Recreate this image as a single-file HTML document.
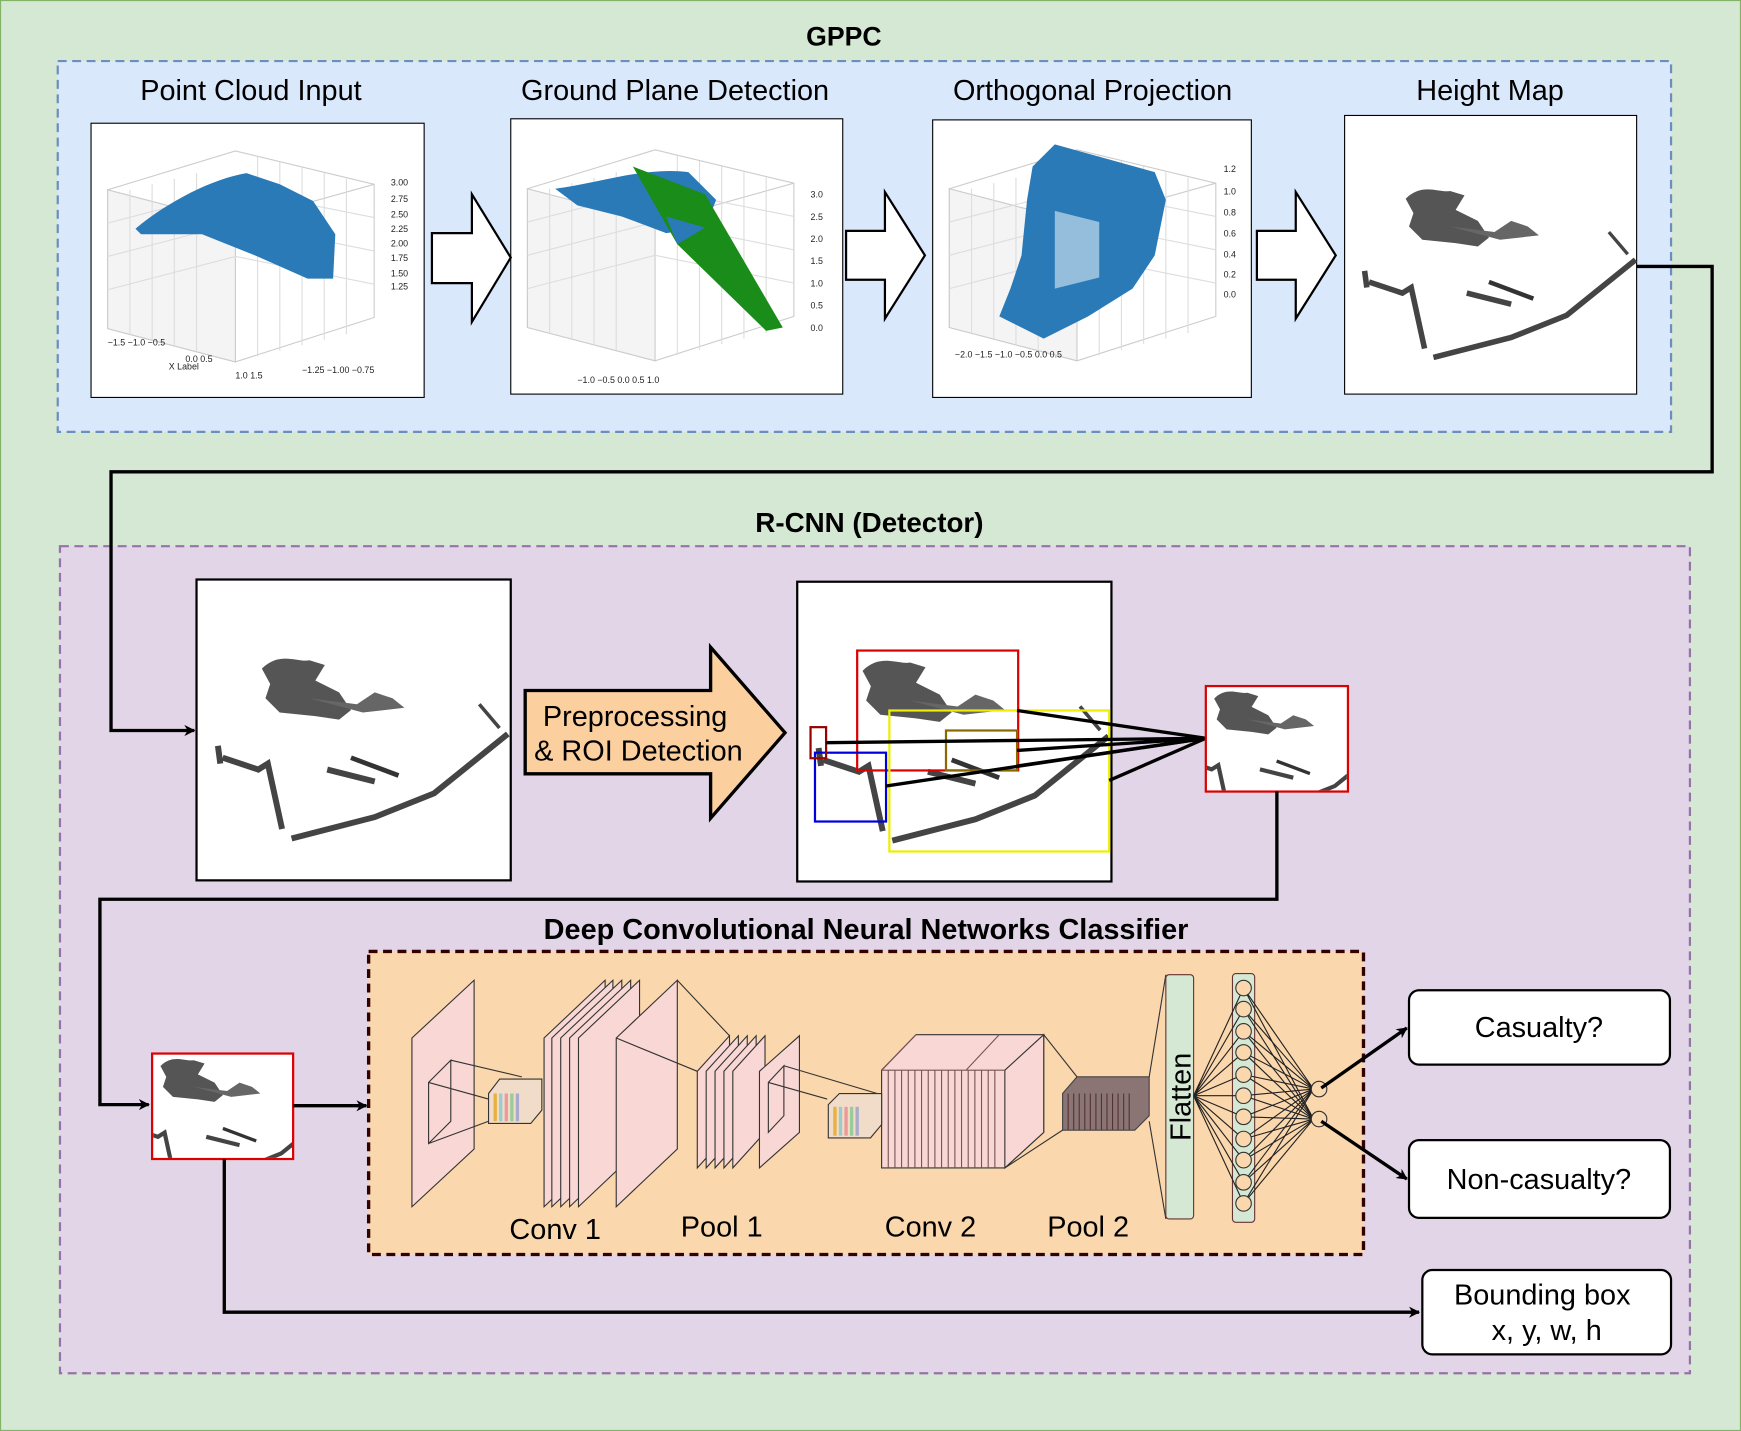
<!DOCTYPE html>
<html><head><meta charset="utf-8"><style>
html,body{margin:0;padding:0;background:#d5e8d4}
svg{display:block}
text{font-family:"Liberation Sans",sans-serif}
</style></head><body>
<svg width="1741" height="1431" viewBox="0 0 1568 1289" preserveAspectRatio="none" xmlns="http://www.w3.org/2000/svg">
<defs>
<marker id="ar" markerWidth="10" markerHeight="10" refX="9" refY="5" orient="auto" markerUnits="userSpaceOnUse"><path d="M0,0 L10,5 L0,10 L3,5 z" fill="#000"/></marker>
<clipPath id="c1"><rect x="1087" y="619" width="126" height="93"/></clipPath>
<clipPath id="c2"><rect x="138" y="950" width="125" height="93"/></clipPath>
<g id="hm">
 <path d="M55,75 C70,60 85,70 95,68 L108,72 L100,85 L120,95 L130,110 L120,118 L100,115 L70,112 L58,100 L62,88 Z" fill="#555"/>
 <path d="M95,100 L135,105 L150,95 L165,100 L175,108 L140,112 Z" fill="#666"/>
 <path d="M18,140 L20,155 M22,150 L52,160 L60,155 L72,210 M80,218 L150,200 L200,180 L262,130 M110,160 L150,170" stroke="#444" stroke-width="5" fill="none"/>
 <path d="M130,150 L170,165" stroke="#333" stroke-width="4"/>
 <path d="M238,105 L255,125" stroke="#444" stroke-width="3"/>
</g>
<g id="cube">
 <path d="M15,60 L130,25 L255,55 L255,175 L130,215 L15,185 Z" fill="#fff" stroke="#ccc"/>
 <path d="M15,60 L15,185 L130,215 L130,90 Z M130,90 L255,55" fill="#f4f4f4" stroke="#ccc"/>
 <path d="M35,60 L35,190 M55,55 L55,195 M75,50 L75,200 M95,45 L95,205 M150,30 L150,210 M170,35 L170,205 M190,40 L190,200 M210,45 L210,195 M230,50 L230,190 M15,90 L130,60 L255,85 M15,120 L130,90 L255,115 M15,150 L130,120 L255,145" stroke="#ddd" fill="none"/>
</g>
</defs>
<rect x="0.5" y="0.5" width="1567" height="1288" fill="#d5e8d4" stroke="#82b366"/>
<text x="760" y="41" font-size="24" font-weight="bold" text-anchor="middle">GPPC</text>
<rect x="52" y="55" width="1453" height="334" fill="#dae8fc" stroke="#6c8ebf" stroke-width="2" stroke-dasharray="8,5"/>
<g font-size="26" text-anchor="middle">
<text x="226" y="90">Point Cloud Input</text>
<text x="608" y="90">Ground Plane Detection</text>
<text x="984" y="90">Orthogonal Projection</text>
<text x="1342" y="90">Height Map</text>
</g>
<rect x="82" y="111" width="300" height="247" fill="#fff" stroke="#000"/>
<g transform="translate(82,111)">
<use href="#cube"/>
<path d="M40,95 C70,70 110,50 140,45 L170,55 L200,70 L220,100 L218,140 L195,140 L150,120 L100,100 L45,100 Z" fill="#2a7ab8"/>
<g font-size="8" fill="#222"><text x="270" y="56">3.00</text><text x="270" y="71">2.75</text><text x="270" y="85">2.50</text><text x="270" y="98">2.25</text><text x="270" y="111">2.00</text><text x="270" y="124">1.75</text><text x="270" y="138">1.50</text><text x="270" y="150">1.25</text>
<text x="15" y="200">−1.5 −1.0 −0.5</text><text x="85" y="215">0.0  0.5</text><text x="130" y="230">1.0    1.5</text><text x="70" y="222">X Label</text><text x="190" y="225">−1.25 −1.00 −0.75</text></g>
</g>
<rect x="460" y="107" width="299" height="248" fill="#fff" stroke="#000"/>
<g transform="translate(460,110)">
<use href="#cube"/>
<path d="M40,60 C80,55 120,40 160,45 L185,70 L175,95 L140,100 L100,85 L60,75 Z" fill="#2a7ab8"/>
<path d="M110,40 L175,65 L245,185 L230,188 L150,110 Z" fill="#1a8c1a"/>
<path d="M140,85 L175,95 L150,110 Z" fill="#2a7ab8"/>
<g font-size="8" fill="#222"><text x="270" y="68">3.0</text><text x="270" y="88">2.5</text><text x="270" y="108">2.0</text><text x="270" y="128">1.5</text><text x="270" y="148">1.0</text><text x="270" y="168">0.5</text><text x="270" y="188">0.0</text><text x="60" y="235">−1.0   −0.5   0.0   0.5   1.0</text></g>
</g>
<rect x="840" y="108" width="287" height="250" fill="#fff" stroke="#000"/>
<g transform="translate(840,110)">
<use href="#cube"/>
<path d="M90,40 L110,20 L200,45 L210,70 L200,120 L180,150 L140,175 L100,195 L60,175 L70,150 L80,120 L85,70 Z" fill="#2a7ab8"/>
<path d="M110,80 L150,90 L150,140 L110,150 Z" fill="#fff" opacity="0.5"/>
<g font-size="8" fill="#222"><text x="262" y="45">1.2</text><text x="262" y="65">1.0</text><text x="262" y="84">0.8</text><text x="262" y="103">0.6</text><text x="262" y="122">0.4</text><text x="262" y="140">0.2</text><text x="262" y="158">0.0</text><text x="20" y="212">−2.0  −1.5  −1.0  −0.5  0.0  0.5</text></g>
</g>
<rect x="1211" y="104" width="263" height="251" fill="#fff" stroke="#000"/>
<use href="#hm" transform="translate(1211,104)"/>
<g fill="#fff" stroke="#000" stroke-width="2">
<path d="M389,210 L425,210 L425,175 L460,232 L425,290 L425,255 L389,255 Z"/>
<path d="M762,208 L797,208 L797,173 L833,230 L797,287 L797,252 L762,252 Z"/>
<path d="M1132,208 L1167,208 L1167,173 L1203,230 L1167,287 L1167,252 L1132,252 Z"/>
</g>
<text x="783" y="479" font-size="25" font-weight="bold" text-anchor="middle">R-CNN (Detector)</text>
<rect x="54" y="492" width="1468" height="745" fill="#e1d5e7" stroke="#9673a6" stroke-width="2" stroke-dasharray="8,5"/>
<path d="M1474,240 L1542,240 L1542,425 L100,425 L100,658 L175,658" fill="none" stroke="#000" stroke-width="3" marker-end="url(#ar)"/>
<rect x="177" y="522" width="283" height="271" fill="#fff" stroke="#000" stroke-width="2"/>
<use href="#hm" transform="translate(177,522) scale(1.07,1.07)"/>
<path d="M473,622 L640,622 L640,583 L707,660 L640,737 L640,697 L473,697 Z" fill="#fccf9e" stroke="#000" stroke-width="3"/>
<g font-size="26" text-anchor="middle"><text x="572" y="654">Preprocessing</text><text x="575" y="685">&amp; ROI Detection</text></g>
<rect x="718" y="524" width="283" height="270" fill="#fff" stroke="#000" stroke-width="2"/>
<use href="#hm" transform="translate(718,524) scale(1.07,1.07)"/>
<g fill="none" stroke-width="2">
<rect x="772" y="586" width="145" height="108" stroke="#d00"/>
<rect x="801" y="640" width="198" height="127" stroke="#ee0"/>
<rect x="734" y="678" width="64" height="62" stroke="#0000dd"/>
<rect x="730" y="655" width="14" height="28" stroke="#900"/>
<rect x="852" y="658" width="64" height="36" stroke="#8a6a00"/>
</g>
<g stroke="#000" stroke-width="3">
<line x1="744" y1="669" x2="1086" y2="665"/><line x1="798" y1="708" x2="1086" y2="665"/><line x1="916" y1="640" x2="1086" y2="665"/><line x1="916" y1="690" x2="1086" y2="665"/><line x1="916" y1="676" x2="1086" y2="665"/><line x1="999" y1="703" x2="1086" y2="665"/>
</g>
<rect x="1086" y="618" width="128" height="95" fill="#fff" stroke="#d00" stroke-width="2"/>
<g clip-path="url(#c1)"><use href="#hm" transform="translate(1086,618) scale(0.75) translate(-45,-60)"/></g>
<path d="M1150,713 L1150,810 L90,810 L90,995 L134,995" fill="none" stroke="#000" stroke-width="3" marker-end="url(#ar)"/>
<rect x="137" y="949" width="127" height="95" fill="#fff" stroke="#d00" stroke-width="2"/>
<g clip-path="url(#c2)"><use href="#hm" transform="translate(137,949) scale(0.75) translate(-45,-60)"/></g>
<line x1="264" y1="996" x2="330" y2="996" stroke="#000" stroke-width="3" marker-end="url(#ar)"/>
<text x="780" y="846" font-size="26" font-weight="bold" text-anchor="middle">Deep Convolutional Neural Networks Classifier</text>
<rect x="332" y="857" width="896" height="273" fill="#fad7ac" stroke="#300" stroke-width="3" stroke-dasharray="8,5"/>
<g fill="#f8d7d4" stroke="#333" stroke-width="1">
<path d="M371,935 L427,883 L427,1035 L371,1087 Z"/>
<path d="M490,935 L545,883 L545,1035 L490,1087 Z"/><path d="M497,935 L552,883 L552,1035 L497,1087 Z"/><path d="M505,935 L560,883 L560,1035 L505,1087 Z"/><path d="M513,935 L568,883 L568,1035 L513,1087 Z"/><path d="M521,935 L576,883 L576,1035 L521,1087 Z"/>
<path d="M555,935 L610,883 L610,1035 L555,1087 Z"/>
<path d="M628,965 L657,933 L657,1020 L628,1052 Z"/><path d="M636,965 L665,933 L665,1020 L636,1052 Z"/><path d="M644,965 L673,933 L673,1020 L644,1052 Z"/><path d="M652,965 L681,933 L681,1020 L652,1052 Z"/><path d="M660,965 L689,933 L689,1020 L660,1052 Z"/>
<path d="M684,965 L720,933 L720,1020 L684,1052 Z"/>
<path d="M794,964 L825,932 L940,932 L940,1020 L905,1052 L794,1052 Z"/>
<path d="M905,964 L940,932 L940,1020 L905,1052 Z"/>
</g>
<g stroke="#755" stroke-width="1">
<path d="M800,964 V1052 M806,964 V1052 M812,964 V1052 M818,964 V1052 M824,964 V1052 M830,964 V1052 M836,964 V1052 M842,964 V1052 M848,964 V1052 M854,964 V1052 M860,964 V1052 M866,964 V1052 M872,964 V1052 M878,964 V1052 M884,964 V1052 M890,964 V1052 M896,964 V1052 M794,964 L905,964 M825,932 L794,964 M900,932 L870,964"/>
</g>
<path d="M957,985 L970,970 L1035,970 L1035,1005 L1022,1018 L957,1018 Z" fill="#8a7474" stroke="#444"/>
<g stroke="#533" stroke-width="1"><path d="M962,985 V1018 M967,985 V1018 M972,985 V1018 M977,985 V1018 M982,985 V1018 M987,985 V1018 M992,985 V1018 M997,985 V1018 M1002,985 V1018 M1007,985 V1018 M1012,985 V1018 M1017,985 V1018"/></g>
<g fill="none" stroke="#333" stroke-width="1">
<path d="M386,975 L406,955 L406,1010 L386,1030 Z M406,955 L470,970 M386,975 L440,990 M386,1030 L440,1010"/>
<path d="M440,985 L450,972 L488,972 L488,1000 L478,1012 L440,1012 Z" fill="#f0dcc8"/>
<path d="M610,883 L657,933 M555,935 L628,965"/>
<path d="M692,975 L706,960 L706,1005 L692,1020 Z M706,960 L790,985 M692,975 L745,990"/>
<path d="M746,995 L756,985 L794,985 L794,1013 L784,1025 L746,1025 Z" fill="#f0dcc8"/>
<path d="M940,932 L970,970 M905,1052 L957,1018 M1035,970 L1050,878 M1035,1010 L1050,1098"/>
</g>
<g stroke-width="3"><path d="M446,985 V1010" stroke="#e8b040"/><path d="M451,985 V1010" stroke="#9cc"/><path d="M456,985 V1010" stroke="#e99"/><path d="M461,985 V1010" stroke="#9c9"/><path d="M466,985 V1010" stroke="#aac"/>
<path d="M752,997 V1023" stroke="#e8b040"/><path d="M757,997 V1023" stroke="#9cc"/><path d="M762,997 V1023" stroke="#e99"/><path d="M767,997 V1023" stroke="#9c9"/><path d="M772,997 V1023" stroke="#aac"/></g>
<rect x="1050" y="878" width="25" height="220" rx="3" fill="#d5e8d4" stroke="#633"/>
<text transform="translate(1072,988) rotate(-90)" font-size="26" text-anchor="middle">Flatten</text>
<rect x="1110" y="877" width="20" height="224" rx="3" fill="#d5e8d4" stroke="#633"/>
<g stroke="#222" stroke-width="1" fill="none">
<path d="M1075,987 L1120,890 M1075,987 L1120,909 M1075,987 L1120,929 M1075,987 L1120,948 M1075,987 L1120,968 M1075,987 L1120,987 M1075,987 L1120,1006 M1075,987 L1120,1026 M1075,987 L1120,1045 M1075,987 L1120,1065 M1075,987 L1120,1084"/>
<path d="M1120,890 L1183,981 M1120,909 L1183,981 M1120,929 L1183,981 M1120,948 L1183,981 M1120,968 L1183,981 M1120,987 L1183,981 M1120,1006 L1183,981 M1120,1026 L1183,981 M1120,1045 L1183,981 M1120,1065 L1183,981 M1120,1084 L1183,981"/>
<path d="M1120,890 L1183,1008 M1120,909 L1183,1008 M1120,929 L1183,1008 M1120,948 L1183,1008 M1120,968 L1183,1008 M1120,987 L1183,1008 M1120,1006 L1183,1008 M1120,1026 L1183,1008 M1120,1045 L1183,1008 M1120,1065 L1183,1008 M1120,1084 L1183,1008"/>
</g>
<g fill="#fad7ac" stroke="#333">
<circle cx="1120" cy="890" r="7"/><circle cx="1120" cy="909" r="7"/><circle cx="1120" cy="929" r="7"/><circle cx="1120" cy="948" r="7"/><circle cx="1120" cy="968" r="7"/><circle cx="1120" cy="987" r="7"/><circle cx="1120" cy="1006" r="7"/><circle cx="1120" cy="1026" r="7"/><circle cx="1120" cy="1045" r="7"/><circle cx="1120" cy="1065" r="7"/><circle cx="1120" cy="1084" r="7"/>
<circle cx="1188" cy="981" r="7"/><circle cx="1188" cy="1008" r="7"/>
</g>
<g font-size="26" text-anchor="middle"><text x="500" y="1116">Conv 1</text><text x="650" y="1114">Pool 1</text><text x="838" y="1114">Conv 2</text><text x="980" y="1114">Pool 2</text></g>
<line x1="1190" y1="980" x2="1267" y2="926" stroke="#000" stroke-width="3" marker-end="url(#ar)"/>
<line x1="1190" y1="1010" x2="1267" y2="1062" stroke="#000" stroke-width="3" marker-end="url(#ar)"/>
<rect x="1269" y="892" width="235" height="67" rx="9" fill="#fff" stroke="#000" stroke-width="2"/>
<rect x="1269" y="1027" width="235" height="70" rx="9" fill="#fff" stroke="#000" stroke-width="2"/>
<rect x="1281" y="1144" width="224" height="76" rx="9" fill="#fff" stroke="#000" stroke-width="2"/>
<g font-size="26" text-anchor="middle"><text x="1386" y="934">Casualty?</text><text x="1386" y="1071">Non-casualty?</text><text x="1389" y="1175">Bounding box</text><text x="1393" y="1207">x, y, w, h</text></g>
<path d="M202,1044 L202,1182 L1278,1182" fill="none" stroke="#000" stroke-width="3" marker-end="url(#ar)"/>
</svg>
</body></html>
